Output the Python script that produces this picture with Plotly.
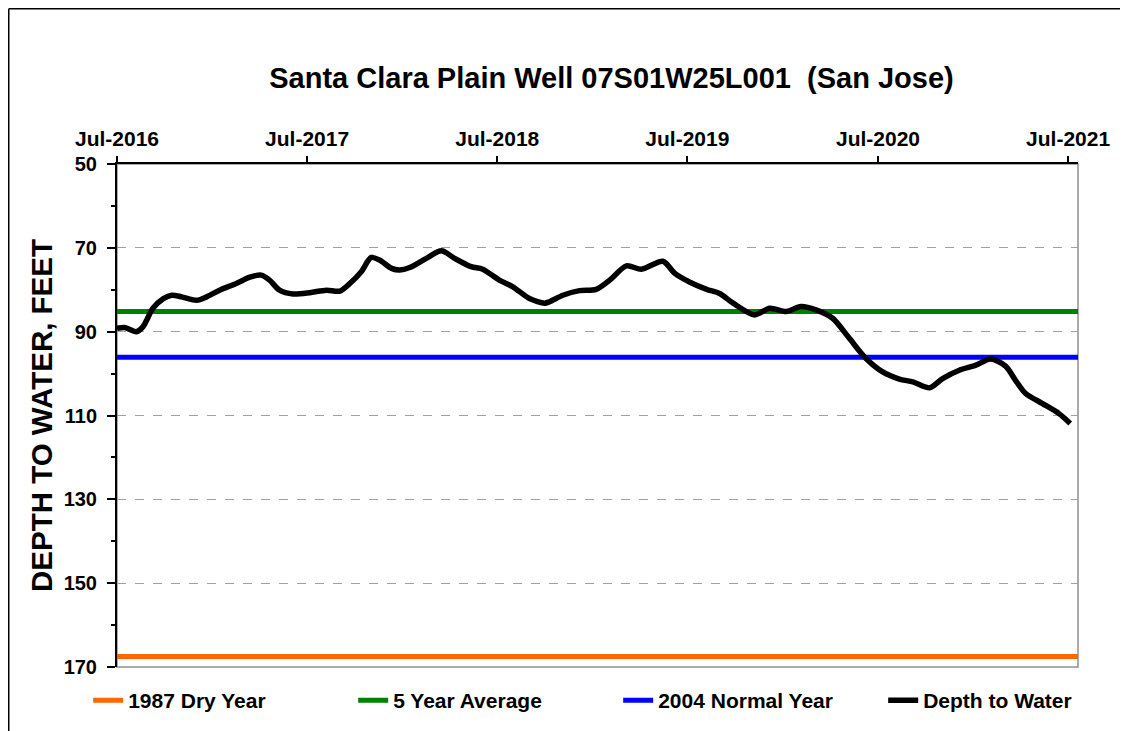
import plotly.graph_objects as go

# ---- data ----
dates = [
    "2016-07-01", "2016-07-16", "2016-08-07", "2016-08-20", "2016-09-08", "2016-09-28",
    "2016-10-14", "2016-11-02", "2016-12-01", "2016-12-20", "2017-01-14", "2017-02-15",
    "2017-03-13", "2017-04-04", "2017-04-20", "2017-05-09", "2017-06-04", "2017-07-06",
    "2017-08-07", "2017-09-02", "2017-09-21", "2017-10-13", "2017-11-01", "2017-11-17",
    "2017-12-10", "2017-12-26", "2018-01-14", "2018-02-15", "2018-03-16", "2018-04-10",
    "2018-05-12", "2018-06-03", "2018-07-05", "2018-07-31", "2018-09-01", "2018-09-30",
    "2018-10-09", "2018-11-04", "2018-12-06", "2019-01-07", "2019-02-02", "2019-03-06",
    "2019-04-04", "2019-05-15", "2019-06-07", "2019-07-06", "2019-08-07", "2019-09-01",
    "2019-09-27", "2019-11-07", "2019-12-06", "2020-01-07", "2020-02-04", "2020-03-04",
    "2020-04-05", "2020-05-07", "2020-06-08", "2020-07-10", "2020-08-11", "2020-09-06",
    "2020-10-08", "2020-11-02", "2020-12-04", "2021-01-05", "2021-02-02", "2021-03-03",
    "2021-03-22", "2021-04-10", "2021-05-12", "2021-06-13", "2021-07-05",
]
depth_to_water = [
    89.2, 89.0, 90.0, 88.8, 84.4, 82.1,
    81.3, 81.7, 82.5, 81.7, 80.1, 78.5,
    77.0, 76.5, 77.7, 80.1, 81.0, 80.7,
    80.1, 80.3, 78.5, 75.7, 72.3, 72.9,
    74.9, 75.3, 74.7, 72.5, 70.7, 72.5,
    74.5, 75.1, 77.7, 79.3, 82.1, 83.2,
    82.9, 81.3, 80.2, 79.9, 77.7, 74.3,
    75.1, 73.2, 76.1, 78.2, 79.9, 80.9,
    83.2, 86.0, 84.4, 85.2, 84.0, 84.8,
    86.8, 91.6, 96.4, 99.6, 101.3, 102.0,
    103.4, 101.2, 99.2, 98.0, 96.5, 98.2,
    101.6, 104.7, 107.1, 109.5, 111.9,
]

dry_year_1987 = 167.5
five_year_average = 85.2
normal_year_2004 = 96.1

x_start = "2016-07-01"
x_end = "2021-07-20"

tick_dates = ["2016-07-01", "2017-07-01", "2018-07-01", "2019-07-01", "2020-07-01", "2021-07-01"]
tick_labels = ["Jul-2016", "Jul-2017", "Jul-2018", "Jul-2019", "Jul-2020", "Jul-2021"]

y_ticks = [50, 70, 90, 110, 130, 150, 170]
y_minor_ticks = [60, 80, 100, 120, 140, 160]

title_text = "Santa Clara Plain Well 07S01W25L001\u00a0\u00a0(San Jose)"

FONT = "Liberation Sans, Arial, Helvetica, sans-serif"

# plot-area geometry (figure pixels)
L, T, PW, PH = 109, 156, 961, 503
W, H = 1128, 731

fig = go.Figure()

fig.add_trace(go.Scatter(
    x=[x_start, x_end], y=[dry_year_1987, dry_year_1987], mode="lines",
    name="1987 Dry Year", line=dict(color="#FF6600", width=5),
))
fig.add_trace(go.Scatter(
    x=[x_start, x_end], y=[five_year_average, five_year_average], mode="lines",
    name="5 Year Average", line=dict(color="#008000", width=5),
))
fig.add_trace(go.Scatter(
    x=[x_start, x_end], y=[normal_year_2004, normal_year_2004], mode="lines",
    name="2004 Normal Year", line=dict(color="#0000FF", width=5),
))
fig.add_trace(go.Scatter(
    x=dates, y=depth_to_water, mode="lines",
    name="Depth to Water", line=dict(color="black", width=5.5, shape="spline", smoothing=0.8),
))

frame_left = (0.75 - L) / PW
frame_top = (T + PH - 0.75) / PH
frame_right = (W + 20 - L) / PW
frame_bottom = (T + PH - H - 20) / PH

fig.update_layout(
    width=W, height=H,
    margin=dict(l=L, r=W - L - PW, t=T, b=H - T - PH, autoexpand=False),
    paper_bgcolor="white", plot_bgcolor="white",
    font=dict(family=FONT, color="black"),
    title=dict(
        text=title_text, x=0.535, xanchor="center", y=1 - 70 / 731, yanchor="middle",
        yref="container", font=dict(family=FONT, size=29, weight="bold", color="black"),
    ),
    showlegend=True,
    legend=dict(
        orientation="h", x=-0.03, xanchor="left", y=-0.026, yanchor="top",
        entrywidth=220, entrywidthmode="pixels",
        font=dict(family=FONT, size=21, weight="bold", color="black"),
        bgcolor="rgba(0,0,0,0)", itemwidth=30,
    ),
    xaxis=dict(
        type="date", side="top", range=[x_start, x_end], automargin=False,
        tickmode="array", tickvals=tick_dates, ticktext=tick_labels,
        tickfont=dict(family=FONT, size=21, weight="bold", color="black"),
        ticks="outside", ticklen=6, tickwidth=1.5, tickcolor="black", ticklabelstandoff=2,
        showline=True, linecolor="black", linewidth=2, showgrid=False, zeroline=False,
    ),
    yaxis=dict(
        range=[170, 50], autorange=False, automargin=False,
        tickmode="array", tickvals=y_ticks,
        tickfont=dict(family=FONT, size=20, weight="bold", color="black"),
        ticks="outside", ticklen=8, tickwidth=1.5, tickcolor="black", ticklabelstandoff=6,
        minor=dict(tickmode="array", tickvals=y_minor_ticks, ticks="outside",
                   ticklen=4, tickwidth=1.5, tickcolor="black", showgrid=False),
        showline=True, linecolor="black", linewidth=2,
        showgrid=True, gridcolor="#a0a0a0", griddash="dash", gridwidth=1.2,
        zeroline=False,
        title=dict(text="DEPTH TO WATER, FEET", standoff=2,
                   font=dict(family=FONT, size=29.5, weight="bold", color="black")),
    ),
    shapes=[
        dict(type="rect", xref="x domain", yref="y domain", x0=0, x1=1, y0=0, y1=1,
             line=dict(color="#909090", width=1.5), layer="below"),
        dict(type="line", xref="paper", yref="paper",
             x0=frame_left, x1=frame_left, y0=frame_bottom, y1=frame_top,
             line=dict(color="black", width=1.5), layer="below"),
        dict(type="line", xref="paper", yref="paper",
             x0=frame_left, x1=frame_right, y0=frame_top, y1=frame_top,
             line=dict(color="black", width=1.5), layer="below"),
    ],
)

fig.write_html("out.html")
